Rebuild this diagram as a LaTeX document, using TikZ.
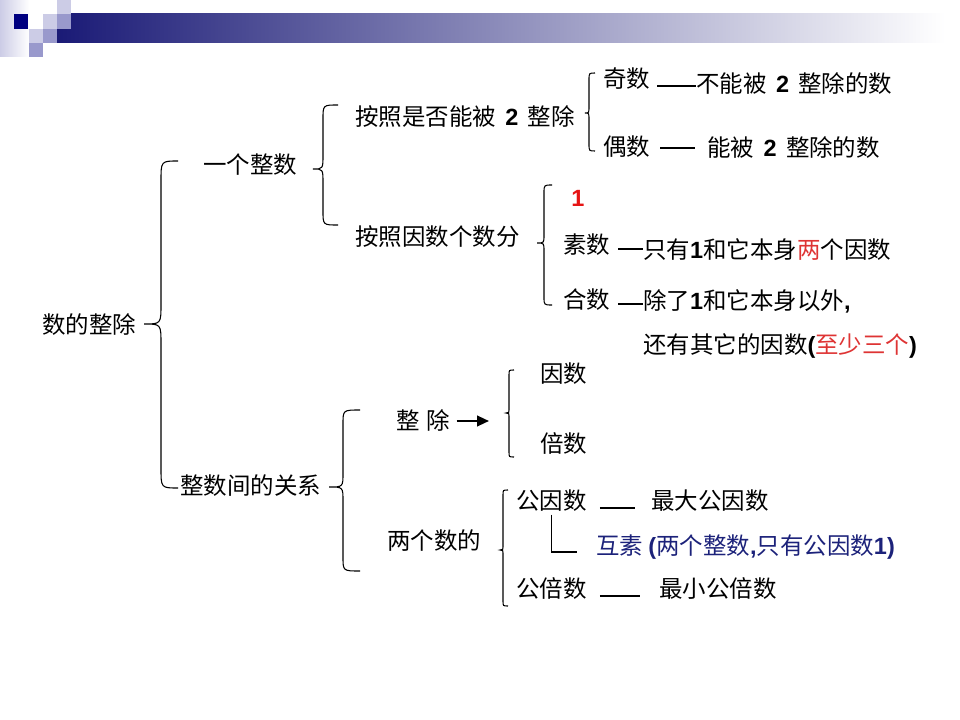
\documentclass[tikz,border=0pt]{standalone}
\usepackage{fontspec}
\setmainfont{Noto Sans CJK SC}
\newfontfamily\latf{Liberation Sans}
\usetikzlibrary{arrows.meta,calc}
\definecolor{navyA}{RGB}{26,26,118}
\definecolor{midC}{RGB}{160,160,188}
\definecolor{lavA}{RGB}{204,204,230}
\definecolor{lavB}{RGB}{153,153,204}
\definecolor{navyS}{RGB}{0,0,128}
\definecolor{redA}{RGB}{230,20,20}
\definecolor{redB}{RGB}{222,52,52}
\definecolor{blueT}{RGB}{28,34,122}
\newcommand\B[1]{{\latf\bfseries #1}}
\newcommand\gapS{\hspace{0.4em}}
% tipx, vertical x, end x, top y, tip y, bottom y, radius
\newcommand\cbrace[7]{\draw[brc] (#3,#4) .. controls (#2,#4) .. (#2,{#4+#7}) -- (#2,{#5-#7}) .. controls (#2,#5) .. (#1,#5) .. controls (#2,#5) .. (#2,{#5+#7}) -- (#2,{#6-#7}) .. controls (#2,#6) .. (#3,#6);}
\tikzset{
  lbl/.style={inner sep=0pt, anchor=west, font=\fontsize{17.6}{20}\selectfont, text height=1.1em, text depth=0em},
  conn/.style={line width=0.8pt},
  brc/.style={line width=0.8pt},
  arr/.style={line width=1.6pt, -{Triangle[length=9pt,width=8pt]}},
}
\begin{document}
\begin{tikzpicture}[x=0.75pt,y=-0.75pt]
\useasboundingbox (0,0) rectangle (960,720);
% header
\shade[left color=lavA, right color=white] (0,0) rectangle (29,57);
\shade[left color=navyA, middle color=midC, right color=white] (57,14) rectangle (945,43);
\fill[lavA] (57,0) rectangle (71,14);
\fill[navyS] (14,14) rectangle (28,29);
\fill[lavA] (43,14) rectangle (57,29);
\fill[lavB] (57,14) rectangle (71,29);
\fill[lavA] (29,29) rectangle (43,43);
\fill[lavB] (43,29) rectangle (57,43);
\fill[lavB] (29,43) rectangle (43,57);

% nodes
\node[lbl] (root) at (42,326) {数的整除};
\node[lbl] (n1) at (203,166) {一个整数};
\node[lbl] (n2) at (180,487) {整数间的关系};
\node[lbl] (a1) at (355,118) {按照是否能被\gapS\B{2}\gapS 整除};
\node[lbl] (a2) at (355,238) {按照因数个数分};
\node[lbl] (odd) at (603,80) {奇数};
\node[lbl] (odddesc) at (696,85) {不能被\gapS\B{2}\gapS 整除的数};
\node[lbl] (even) at (603,148) {偶数};
\node[lbl] (evendesc) at (707,149) {能被\gapS\B{2}\gapS 整除的数};
\node[lbl, text=redA] (one) at (571,199) {\B{1}};
\node[lbl] (prime) at (563,246) {素数};
\node[lbl] (primedesc) at (643,251) {只有\B{1}和它本身\textcolor{redB}{两}个因数};
\node[lbl] (comp) at (563,301) {合数};
\node[lbl] (compdesc) at (643,302) {除了\B{1}和它本身以外\B{,}};
\node[lbl] (comp2) at (643,346) {还有其它的因数\B{(}\textcolor{redB}{至少三个}\B{)}};
\node[lbl] (zc) at (396,422) {整\hspace{0.3em}除};
\coordinate (arrEnd) at (489,421);
\node[lbl] (fac) at (540,375) {因数};
\node[lbl] (mul) at (540,445) {倍数};
\node[lbl] (two) at (387,542) {两个数的};
\node[lbl] (gcf) at (516,502) {公因数};
\node[lbl] (gcfdesc) at (651,502) {最大公因数};
\node[lbl, text=blueT] (cop) at (596,547) {互素 \B{(}两个整数\B{,}只有公因数\B{1)}};
\node[lbl] (lcm) at (516,590) {公倍数};
\node[lbl] (lcmdesc) at (659,590) {最小公倍数};

% braces
\cbrace{144}{161}{178}{161}{324}{488}{20}
\cbrace{313}{323}{338}{105}{169}{225}{14}
\cbrace{329}{343}{360}{410}{487}{571}{14}
\cbrace{585}{589}{595}{73}{113}{151}{7}
\cbrace{537}{544}{552}{185}{243}{305}{8}
\cbrace{506}{509}{514}{370}{413}{457}{5}
\cbrace{500}{503}{508}{490}{550}{606}{5}

% connectors
\draw[conn] ($(odd.east)+(7,6)$) -- ($(odddesc.west)+(0,1)$);
\draw[conn] ($(even.east)+(10,0)$) -- ($(evendesc.west)+(-12,-1)$);
\draw[conn] ($(prime.east)+(8,3)$) -- ($(primedesc.west)+(0,-2)$);
\draw[conn] ($(comp.east)+(8,3)$) -- ($(compdesc.west)+(0,2)$);
\draw[conn] ($(gcf.east)+(13,6)$) -- ($(gcfdesc.west)+(-16,6)$);
\draw[conn] ($(lcm.east)+(13,6)$) -- ($(lcmdesc.west)+(-19,6)$);
\draw[conn] ($(gcf.south)+(0,5)$) |- ($(cop.west)+(-19,5)$);
\draw[arr] ($(zc.east)+(6,-1)$) -- (arrEnd);
\end{tikzpicture}
\end{document}
